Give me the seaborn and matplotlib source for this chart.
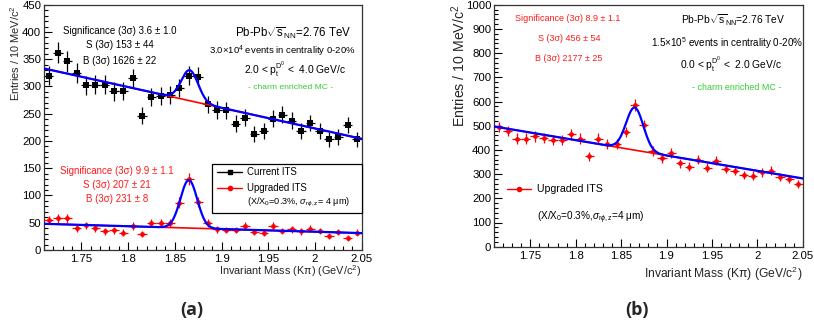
import numpy as np
import pandas as pd
import matplotlib
matplotlib.use("Agg")
import matplotlib.pyplot as plt
import seaborn as sns
from matplotlib.lines import Line2D
from matplotlib.patches import Rectangle
from matplotlib.ticker import MultipleLocator, FixedLocator, FixedFormatter

# ---------------- data ----------------
mass_bins = [1.715, 1.725, 1.735, 1.745, 1.755, 1.765, 1.775, 1.785, 1.795, 1.805,
             1.815, 1.825, 1.835, 1.845, 1.855, 1.865, 1.875, 1.885, 1.895, 1.905,
             1.915, 1.925, 1.935, 1.945, 1.955, 1.965, 1.975, 1.985, 1.995, 2.005,
             2.015, 2.025, 2.035, 2.045]

current_its_a = [320, 362, 346, 325, 302, 303, 303, 291, 292, 315,
                 246, 281, 283, 284, 297, 320, 318, 267, 257, 256,
                 232, 243, 212, 219, 241, 248, 237, 218, 233, 218,
                 203, 207, 229, 203]

upgraded_its_a = [55, 58, 58, 40, 45, 40, 34, 36, 32, 44,
                  30, 49, 49, 49, 87, 130, 88, 49, 38, 37,
                  37, 44, 33, 32, 44, 35, 38, 34, 39, 35,
                  26, 33, 22, 32]

upgraded_its_b = [495, 478, 447, 447, 456, 449, 440, 440, 465, 447,
                  373, 447, 423, 423, 473, 585, 502, 396, 366, 387,
                  345, 330, 359, 327, 356, 321, 313, 297, 294, 307,
                  314, 287, 281, 260]

x_tick_values = [1.75, 1.8, 1.85, 1.9, 1.95, 2.0, 2.05]
x_tick_labels = ["1.75", "1.8", "1.85", "1.9", "1.95", "2", "2.05"]

# fit parameters: linear background (value at left / right edge) + gaussian
fit_a_current = {"bkg_lo": 333, "bkg_hi": 204, "amp": 56, "mu": 1.866, "sigma": 0.009}
fit_a_upgraded = {"bkg_lo": 48, "bkg_hi": 31, "amp": 88, "mu": 1.865, "sigma": 0.009}
fit_b_upgraded = {"bkg_lo": 497, "bkg_hi": 282, "amp": 176, "mu": 1.865, "sigma": 0.0095}

XMIN, XMAX = 1.71, 2.05
BIN_HALF = 0.005

# ---------------- style ----------------
sns.set_theme(style="ticks")
plt.rcParams["font.family"] = ["Liberation Sans", "DejaVu Sans"]
plt.rcParams["mathtext.fontset"] = "custom"
plt.rcParams["mathtext.rm"] = "Liberation Sans"
plt.rcParams["mathtext.it"] = "Liberation Sans:italic"
plt.rcParams["mathtext.bf"] = "Liberation Sans:bold"
plt.rcParams["mathtext.sf"] = "Liberation Sans"

W, H = 814, 331
fig = plt.figure(figsize=(W / 100, H / 100), dpi=100)
fig.patch.set_facecolor("white")


def fx(px):
    return px / W


def fy(py):
    return 1 - py / H


def make_axes(l, t, r, b):
    return fig.add_axes([fx(l), fy(b), fx(r) - fx(l), fy(t) - fy(b)])


ax_a = make_axes(44, 4.7, 361.7, 250)
ax_b = make_axes(494, 4.7, 802.7, 246.7)


def fit_curves(p):
    xf = np.linspace(XMIN, XMAX, 600)
    bkg = p["bkg_lo"] + (p["bkg_hi"] - p["bkg_lo"]) * (xf - XMIN) / (XMAX - XMIN)
    tot = bkg + p["amp"] * np.exp(-0.5 * ((xf - p["mu"]) / p["sigma"]) ** 2)
    return xf, bkg, tot


def draw_series(ax, y, color, marker, msize):
    y = np.asarray(y, dtype=float)
    ax.errorbar(mass_bins, y, xerr=BIN_HALF, yerr=np.sqrt(y), fmt="none",
                ecolor=color, elinewidth=0.9, capsize=0, zorder=3)
    df = pd.DataFrame({"m": mass_bins, "n": y})
    sns.scatterplot(data=df, x="m", y="n", ax=ax, color=color, marker=marker,
                    s=msize, edgecolor=color, linewidth=0, zorder=4, legend=False)


def draw_fit(ax, p):
    xf, bkg, tot = fit_curves(p)
    sns.lineplot(x=xf, y=bkg, ax=ax, color="#ff0000", linewidth=1.2, zorder=5)
    sns.lineplot(x=xf, y=tot, ax=ax, color="#0000ff", linewidth=1.6, zorder=6)


# panel (a)
draw_series(ax_a, current_its_a, "black", "s", 16)
draw_fit(ax_a, fit_a_current)
draw_series(ax_a, upgraded_its_a, "#ff0000", "o", 12)
draw_fit(ax_a, fit_a_upgraded)

# panel (b)
draw_series(ax_b, upgraded_its_b, "#ff0000", "o", 12)
draw_fit(ax_b, fit_b_upgraded)


def style_axes(ax, ymax, ymajor, yminor, ylab_x, ylab_fs, xlab_y, xlab_fs):
    ax.set_xlim(XMIN, XMAX)
    ax.set_ylim(0, ymax)
    ax.xaxis.set_major_locator(FixedLocator(x_tick_values))
    ax.xaxis.set_major_formatter(FixedFormatter(x_tick_labels))
    ax.xaxis.set_minor_locator(MultipleLocator(0.01))
    ax.yaxis.set_major_locator(MultipleLocator(ymajor))
    ax.yaxis.set_minor_locator(MultipleLocator(yminor))
    ax.tick_params(axis="both", which="both", direction="in", top=False, right=False,
                   colors="black", labelsize=8.2, width=0.8)
    ax.tick_params(axis="both", which="major", length=5.5)
    ax.tick_params(axis="both", which="minor", length=2.8)
    ax.tick_params(axis="y", pad=2)
    ax.tick_params(axis="x", pad=3)
    for s in ax.spines.values():
        s.set_visible(True)
        s.set_color("#333333")
        s.set_linewidth(0.9)
    ax.set_ylabel("Entries / 10 MeV/c$^2$", loc="top", fontsize=ylab_fs)
    ax.yaxis.set_label_coords(ylab_x, 1.0)
    ax.set_xlabel("Invariant Mass (Kπ) (GeV/c$^2$)", loc="right", fontsize=xlab_fs)
    ax.xaxis.set_label_coords(1.0, xlab_y)
    ax.grid(False)


style_axes(ax_a, 450, 50, 10, -0.069, 7.9, -0.053, 7.8)
style_axes(ax_b, 1000, 100, 20, -0.084, 10.2, -0.076, 8.7)

RED = "#ff1a1a"
GREEN = "#33cc33"


def t(x, y, s, fs, color="black", ha="center", **kw):
    fig.text(fx(x), fy(y), s, fontsize=fs, color=color, ha=ha, va="center", **kw)


# ---- texts panel (a)
t(120, 30.5, "Significance (3σ) 3.6 ± 1.0", 7)
t(120, 45.5, "S (3σ) 153 ± 44", 7)
t(120, 61, "B (3σ) 1626 ± 22", 7)
t(293, 33.5, r"Pb-Pb$\sqrt{\mathrm{s}}_{\mathrm{NN}}$=2.76 TeV", 8.3)
t(282, 51.7, r"3.0×10$^{4}$ events in centrality 0-20%", 6.8)
t(295, 70, r"2.0 < $\mathrm{p}_{\mathrm{t}}^{\mathrm{D}^{0}}$ <  4.0 GeV/c", 7.4)
t(291, 87.3, "- charm enriched MC -", 6.1, color=GREEN)

t(117, 170.7, "Significance (3σ) 9.9 ± 1.1", 7, color=RED)
t(117, 185, "S (3σ) 207 ± 21", 7, color=RED)
t(117, 199.3, "B (3σ) 231 ± 8", 7, color=RED)

# legend box (a)
fig.add_artist(Rectangle((fx(212), fy(213)), fx(361.7) - fx(212), fy(164) - fy(213),
                         transform=fig.transFigure, facecolor="white", edgecolor="black",
                         linewidth=0.9, zorder=10))
fig.add_artist(Line2D([fx(217), fx(242)], [fy(171.7), fy(171.7)], color="black", lw=1.0,
                      transform=fig.transFigure, zorder=11))
fig.add_artist(Line2D([fx(229.5)], [fy(171.7)], color="black", marker="s", ms=3.5, lw=0,
                      transform=fig.transFigure, zorder=11))
fig.add_artist(Line2D([fx(217), fx(242)], [fy(188.3), fy(188.3)], color="#ff0000", lw=1.0,
                      transform=fig.transFigure, zorder=11))
fig.add_artist(Line2D([fx(229.5)], [fy(188.3)], color="#ff0000", marker="o", ms=3, lw=0,
                      transform=fig.transFigure, zorder=11))
t(246.7, 171.7, "Current ITS", 6.9, ha="left", zorder=12)
t(246.7, 188.3, "Upgraded ITS", 6.9, ha="left", zorder=12)
t(246.7, 202.5, r"(X/X$_0$=0.3%, $\sigma_{\mathrm{r}\phi,\mathrm{z}}$= 4 μm)", 6.6, ha="left", zorder=12)

# ---- texts panel (b)
t(568, 18.3, "Significance (3σ) 8.9 ± 1.1", 6.5, color=RED)
t(569, 38.3, "S (3σ) 456 ± 54", 6.5, color=RED)
t(569, 58.3, "B (3σ) 2177 ± 25", 6.5, color=RED)
t(733, 20.7, r"Pb-Pb$\sqrt{\mathrm{s}}_{\mathrm{NN}}$=2.76 TeV", 7.4)
t(727, 42.7, r"1.5×10$^{5}$ events in centrality 0-20%", 7.1)
t(731, 65, r"0.0 < $\mathrm{p}_{\mathrm{t}}^{\mathrm{D}^{0}}$ <  2.0 GeV/c", 7.4)
t(737, 87.3, "- charm enriched MC -", 6.4, color=GREEN)

fig.add_artist(Line2D([fx(507), fx(531)], [fy(189), fy(189)], color="#ff0000", lw=1.0,
                      transform=fig.transFigure))
fig.add_artist(Line2D([fx(519)], [fy(189)], color="#ff0000", marker="o", ms=3, lw=0,
                      transform=fig.transFigure))
t(537, 189, "Upgraded ITS", 7.6, ha="left")
t(537, 218, r"(X/X$_0$=0.3%,$\sigma_{\mathrm{r}\phi,\mathrm{z}}$=4 μm)", 7.2, ha="left")

# panel captions
fig.text(fx(192), fy(310), "(a)", fontsize=13, fontweight="bold", ha="center", va="center",
         family=["Open Sans", "DejaVu Sans"])
fig.text(fx(637), fy(310), "(b)", fontsize=13, fontweight="bold", ha="center", va="center",
         family=["Open Sans", "DejaVu Sans"])

fig.savefig("out.png", dpi=100, facecolor="white")
